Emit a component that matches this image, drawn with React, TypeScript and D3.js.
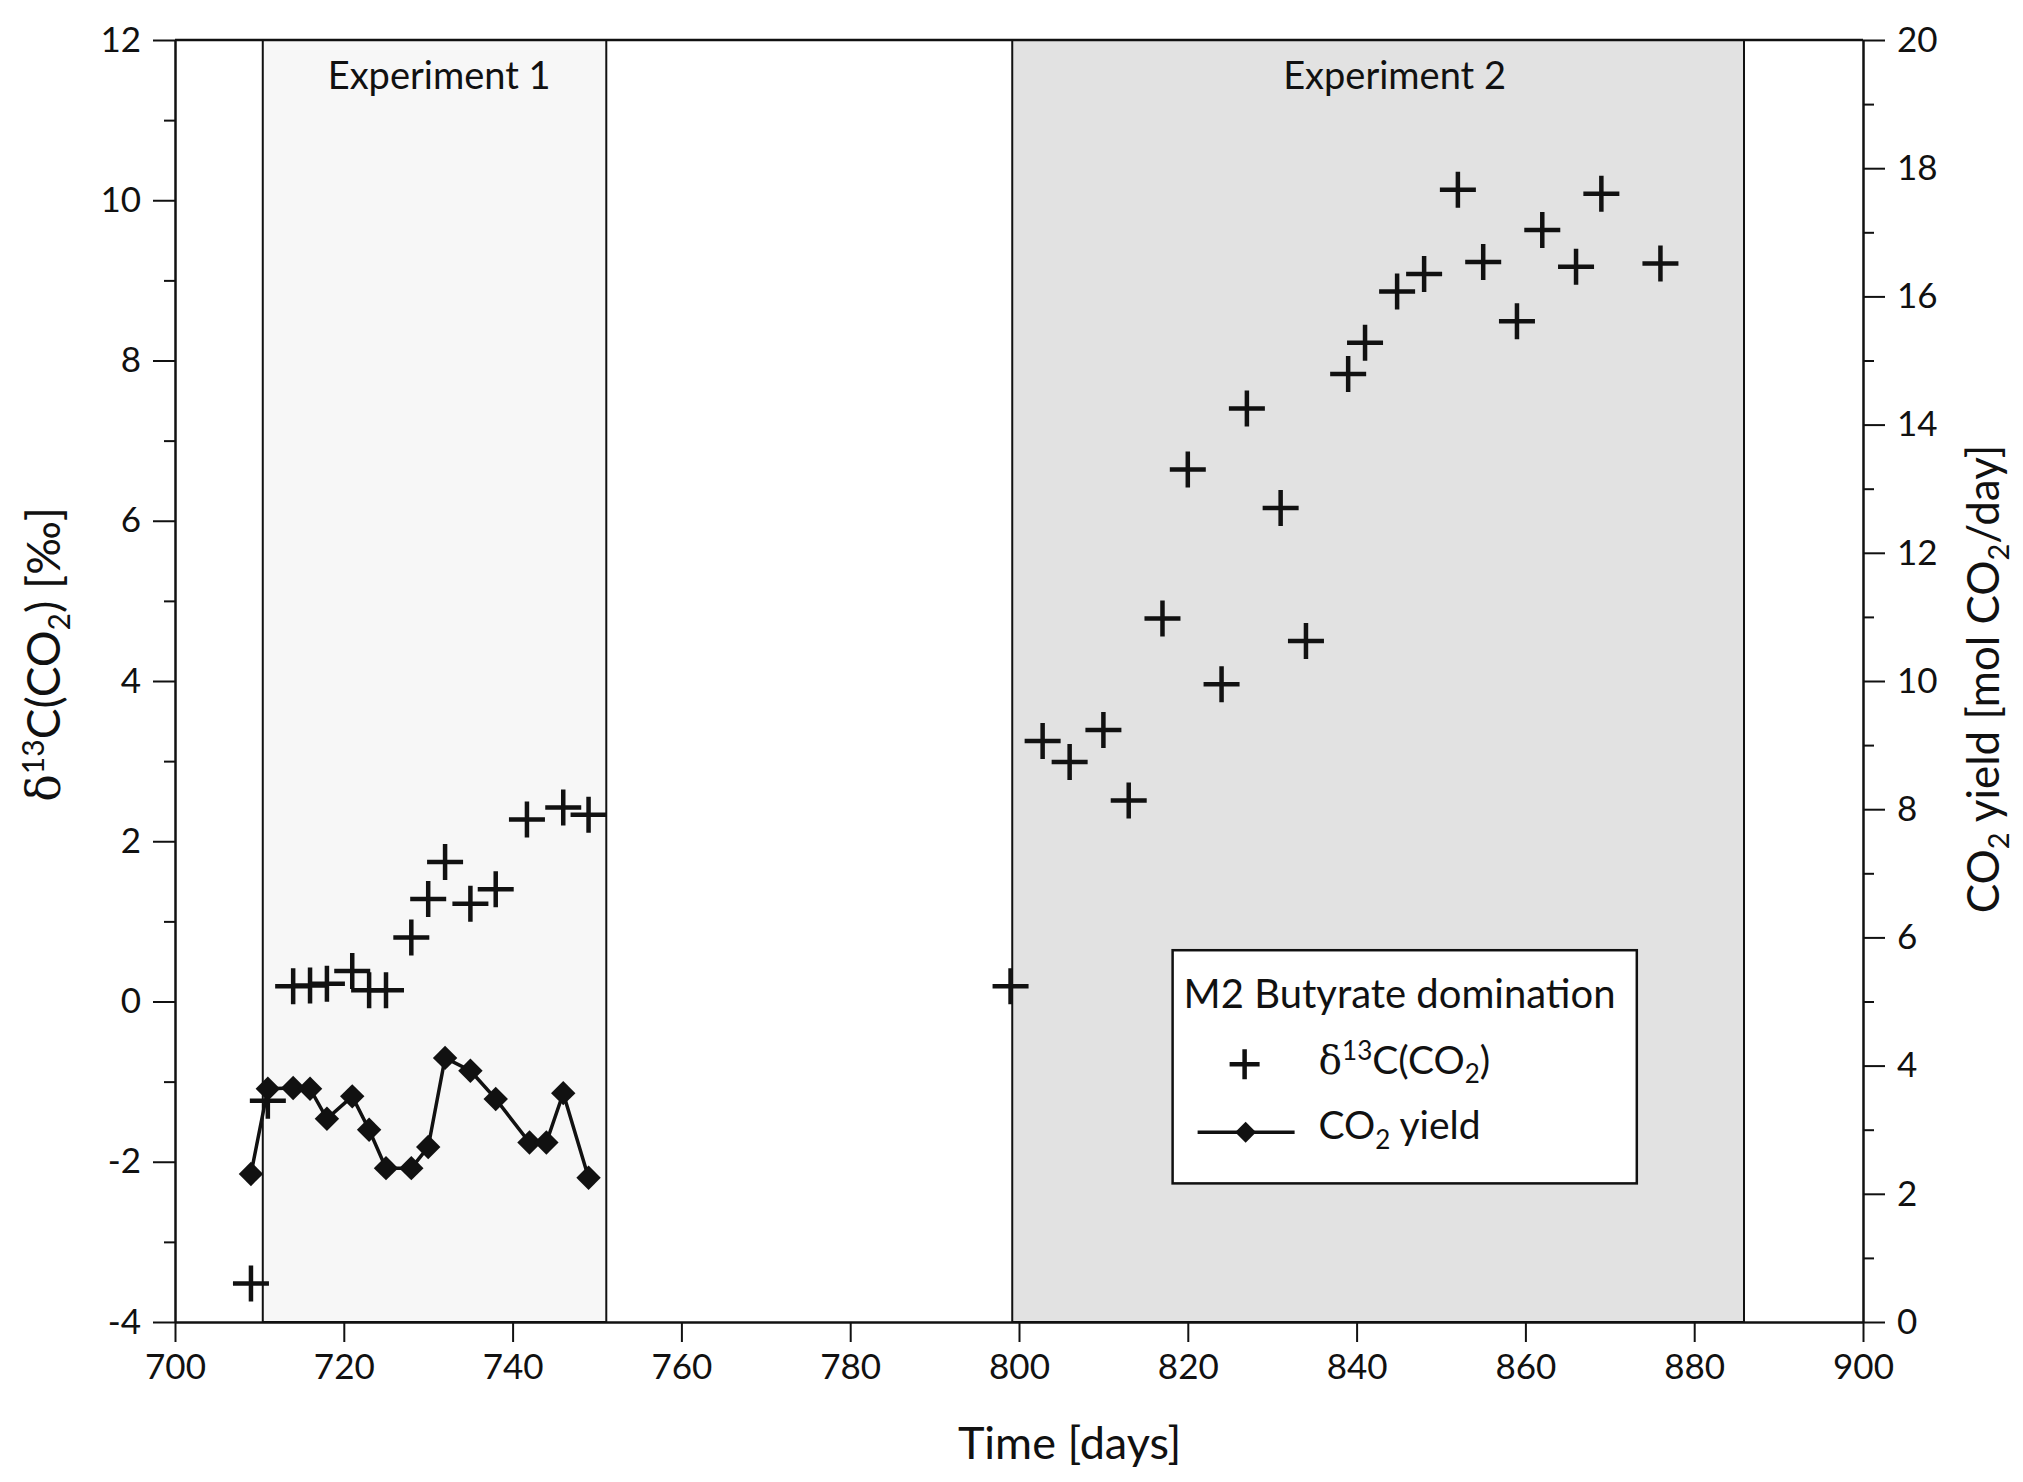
import { useRef, useEffect } from 'react';
import * as d3 from 'd3';

// delta 13C of CO2 [permil], left axis
const deltaDays = [709, 711, 714, 716, 718, 721, 723, 725, 728, 730, 732, 735, 738, 741.7, 746, 749,
  799, 802.8, 806, 810, 813, 817, 820, 824, 827, 831, 834, 839, 841, 844.8, 848, 852, 855, 859, 862, 866, 869, 876];
const deltaValues = [-3.52, -1.24, 0.19, 0.2, 0.22, 0.38, 0.14, 0.14, 0.8, 1.28, 1.74, 1.22, 1.4, 2.27, 2.42, 2.33,
  0.19, 3.25, 2.99, 3.39, 2.51, 4.78, 6.64, 3.96, 7.4, 6.16, 4.5, 7.83, 8.22, 8.86, 9.08, 10.13, 9.23, 8.49, 9.63, 9.17, 10.08, 9.21];

// CO2 yield [mol CO2/day], right axis
const yieldDays = [709, 711, 714, 716, 718, 721, 723, 725, 728, 730, 732, 735, 738, 742, 744, 746, 749];
const yieldValues = [2.31, 3.64, 3.65, 3.64, 3.17, 3.52, 3.0, 2.4, 2.4, 2.73, 4.12, 3.92, 3.48, 2.8, 2.8, 3.57, 2.25];

const periods = [
  { label: 'Experiment 1', start: 710.4, end: 751.1, fill: '#f7f7f7', labelAt: 731.3 },
  { label: 'Experiment 2', start: 799.2, end: 885.9, fill: '#e2e2e2', labelAt: 844.5 },
];

const xTicks = [700, 720, 740, 760, 780, 800, 820, 840, 860, 880, 900];
const leftTicks = [-4, -2, 0, 2, 4, 6, 8, 10, 12];
const rightTicks = [0, 2, 4, 6, 8, 10, 12, 14, 16, 18, 20];

const FONT = 'Lato, "Open Sans", sans-serif';
const SERIF = '"DejaVu Serif", "Liberation Serif", serif';

export default function App() {
  const svgRef = useRef<SVGSVGElement>(null);

  useEffect(() => {
    document.body.style.margin = '0';
    if (!svgRef.current) return;

    const W = 2023;
    const H = 1482;
    const margin = { top: 40, right: 160, bottom: 160, left: 175 };
    const width = W - margin.left - margin.right;
    const height = H - margin.top - margin.bottom;

    const root = d3.select(svgRef.current);
    root.selectAll('*').remove();
    root.attr('width', W).attr('height', H);

    const svg = root.append('g').attr('transform', `translate(${margin.left},${margin.top})`);

    const x = d3.scaleLinear().domain([700, 900]).range([0, width]);
    const yL = d3.scaleLinear().domain([-4, 12]).range([height, 0]);
    const yR = d3.scaleLinear().domain([0, 20]).range([height, 0]);

    const fmt = (d: d3.NumberValue) => String(d); // plain hyphen minus

    // Experiment boxes
    svg.selectAll('.period')
      .data(periods)
      .enter()
      .append('rect')
      .attr('x', d => x(d.start))
      .attr('y', 0)
      .attr('width', d => x(d.end) - x(d.start))
      .attr('height', height)
      .attr('fill', d => d.fill)
      .attr('stroke', '#111')
      .attr('stroke-width', 2);

    svg.selectAll('.period-label')
      .data(periods)
      .enter()
      .append('text')
      .attr('x', d => x(d.labelAt))
      .attr('y', 49)
      .attr('text-anchor', 'middle')
      .style('font-family', FONT)
      .style('font-size', '38px')
      .attr('fill', '#111')
      .text(d => d.label);

    // Frame top
    svg.append('line').attr('x1', 0).attr('x2', width).attr('y1', 0).attr('y2', 0)
      .attr('stroke', '#111').attr('stroke-width', 2.5);

    const styleAxis = (g: d3.Selection<SVGGElement, unknown, null, undefined>) => {
      g.select('.domain').attr('stroke', '#111').attr('stroke-width', 2.5);
      g.selectAll('.tick line').attr('stroke', '#111').attr('stroke-width', 2);
      g.selectAll('.tick text')
        .attr('fill', '#111')
        .style('font-family', FONT)
        .style('font-size', '35px');
    };

    // Minor ticks
    const minorL = d3.range(-3, 12, 2);
    const minorR = d3.range(1, 20, 2);

    svg.append('g')
      .call(d3.axisLeft(yL).tickValues(minorL).tickSize(11).tickFormat(() => ''))
      .call(g => g.select('.domain').remove())
      .call(g => g.selectAll('line').attr('stroke', '#111').attr('stroke-width', 2));

    svg.append('g')
      .attr('transform', `translate(${width},0)`)
      .call(d3.axisRight(yR).tickValues(minorR).tickSize(11).tickFormat(() => ''))
      .call(g => g.select('.domain').remove())
      .call(g => g.selectAll('line').attr('stroke', '#111').attr('stroke-width', 2));

    svg.append('g')
      .attr('transform', `translate(0,${height})`)
      .call(d3.axisBottom(x).tickValues(xTicks).tickSize(20).tickSizeOuter(0).tickPadding(12).tickFormat(fmt))
      .call(styleAxis);

    svg.append('g')
      .call(d3.axisLeft(yL).tickValues(leftTicks).tickSize(22).tickSizeOuter(0).tickPadding(12).tickFormat(fmt))
      .call(styleAxis);

    svg.append('g')
      .attr('transform', `translate(${width},0)`)
      .call(d3.axisRight(yR).tickValues(rightTicks).tickSize(22).tickSizeOuter(0).tickPadding(12).tickFormat(fmt))
      .call(styleAxis);

    // Axis titles
    svg.append('text')
      .attr('x', x(806))
      .attr('y', height + 137)
      .attr('text-anchor', 'middle')
      .style('font-family', FONT)
      .style('font-size', '45px')
      .attr('fill', '#111')
      .text('Time [days]');

    const leftTitle = svg.append('text')
      .attr('transform', `translate(${-margin.left + 60},${yL(4.33)}) rotate(-90)`)
      .attr('text-anchor', 'middle')
      .style('font-family', FONT)
      .style('font-size', '46px')
      .attr('fill', '#111');
    leftTitle.append('tspan').style('font-family', SERIF).text('δ');
    leftTitle.append('tspan').attr('dy', -16).style('font-size', '30px').text('13');
    leftTitle.append('tspan').attr('dy', 16).text('C(CO');
    leftTitle.append('tspan').attr('dy', 10).style('font-size', '30px').text('2');
    leftTitle.append('tspan').attr('dy', -10).text(') [‰]');

    const rightTitle = svg.append('text')
      .attr('transform', `translate(${width + 136},${yR(10.03)}) rotate(-90)`)
      .attr('text-anchor', 'middle')
      .style('font-family', FONT)
      .style('font-size', '44px')
      .attr('fill', '#111');
    rightTitle.append('tspan').text('CO');
    rightTitle.append('tspan').attr('dy', 10).style('font-size', '29px').text('2');
    rightTitle.append('tspan').attr('dy', -10).text(' yield [mol CO');
    rightTitle.append('tspan').attr('dy', 10).style('font-size', '29px').text('2');
    rightTitle.append('tspan').attr('dy', -10).text('/day]');

    // CO2 yield line with diamonds
    const yieldData = yieldDays.map((d, i) => ({ day: d, value: yieldValues[i] }));
    const line = d3.line<{ day: number; value: number }>()
      .x(d => x(d.day))
      .y(d => yR(d.value));

    svg.append('path')
      .datum(yieldData)
      .attr('d', line)
      .attr('fill', 'none')
      .attr('stroke', '#111')
      .attr('stroke-width', 3.5);

    const diamond = d3.symbol().type(d3.symbolDiamond2).size(380);
    svg.selectAll('.diamond')
      .data(yieldData)
      .enter()
      .append('path')
      .attr('d', diamond)
      .attr('transform', d => `translate(${x(d.day)},${yR(d.value)})`)
      .attr('fill', '#111');

    // delta crosses
    const deltaData = deltaDays.map((d, i) => ({ day: d, value: deltaValues[i] }));
    const h = 18;
    const crossPath = `M${-h},0H${h}M0,${-h}V${h}`;
    svg.selectAll('.cross')
      .data(deltaData)
      .enter()
      .append('path')
      .attr('d', crossPath)
      .attr('transform', d => `translate(${x(d.day)},${yL(d.value)})`)
      .attr('fill', 'none')
      .attr('stroke', '#111')
      .attr('stroke-width', 4.5);

    // Legend
    const lg = svg.append('g').attr('transform', `translate(${x(818.2)},${yL(0.64)})`);
    lg.append('rect')
      .attr('width', x(873.2) - x(818.2))
      .attr('height', yL(-2.27) - yL(0.64))
      .attr('fill', '#fff')
      .attr('stroke', '#111')
      .attr('stroke-width', 2.5);
    lg.append('text')
      .attr('x', 11)
      .attr('y', 58)
      .style('font-family', FONT)
      .style('font-size', '40px')
      .attr('fill', '#111')
      .text('M2 Butyrate domination');
    lg.append('path')
      .attr('d', `M${-15},0H${15}M0,${-15}V${15}`)
      .attr('transform', 'translate(72,114)')
      .attr('stroke', '#111')
      .attr('stroke-width', 4.5);
    const t1 = lg.append('text')
      .attr('x', 146)
      .attr('y', 124)
      .style('font-family', FONT)
      .style('font-size', '39px')
      .attr('fill', '#111');
    t1.append('tspan').style('font-family', SERIF).text('δ');
    t1.append('tspan').attr('dy', -14).style('font-size', '26px').text('13');
    t1.append('tspan').attr('dy', 14).text('C(CO');
    t1.append('tspan').attr('dy', 9).style('font-size', '26px').text('2');
    t1.append('tspan').attr('dy', -9).text(')');

    lg.append('line').attr('x1', 25).attr('x2', 122).attr('y1', 182).attr('y2', 182)
      .attr('stroke', '#111').attr('stroke-width', 3.5);
    lg.append('path')
      .attr('d', d3.symbol().type(d3.symbolDiamond2).size(280)())
      .attr('transform', 'translate(73,182)')
      .attr('fill', '#111');
    const t2 = lg.append('text')
      .attr('x', 146)
      .attr('y', 189)
      .style('font-family', FONT)
      .style('font-size', '39px')
      .attr('fill', '#111');
    t2.append('tspan').text('CO');
    t2.append('tspan').attr('dy', 10).style('font-size', '26px').text('2');
    t2.append('tspan').attr('dy', -10).text(' yield');
  }, []);

  return <svg ref={svgRef} style={{ display: 'block' }} />;
}
